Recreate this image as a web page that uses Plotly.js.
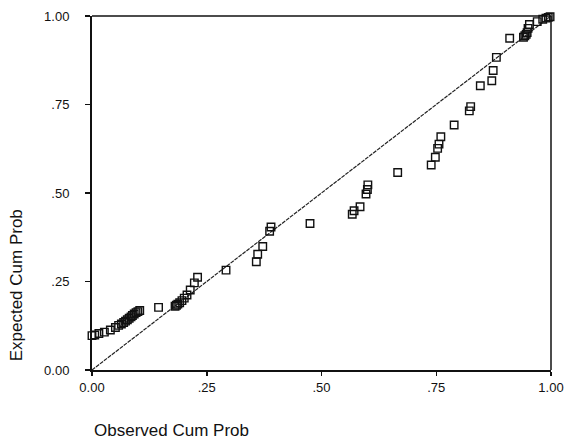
<!DOCTYPE html>
<html>
<head>
<meta charset="utf-8">
<script src="https://cdn.plot.ly/plotly-3.0.1.min.js"></script>
<style>html,body{margin:0;padding:0;background:#fff;}#chart{width:566px;height:442px;}</style>
</head>
<body>
<div id="chart"></div>
<script>
const observedCumProb = [
  0.000, 0.006, 0.015, 0.027, 0.040, 0.051, 0.058, 0.064, 0.069, 0.073, 0.077, 0.081, 0.085, 0.088, 0.092, 0.096, 0.100, 0.104,
  0.145,
  0.181, 0.184, 0.187, 0.191, 0.196, 0.201, 0.207, 0.214, 0.223, 0.230,
  0.292,
  0.358, 0.361, 0.372, 0.387, 0.390,
  0.475,
  0.567, 0.571, 0.584, 0.597, 0.600, 0.601,
  0.666,
  0.739, 0.748, 0.753, 0.756, 0.760,
  0.789,
  0.822, 0.825,
  0.846, 0.871, 0.874, 0.881,
  0.910, 0.940, 0.943, 0.946, 0.948, 0.950, 0.953, 0.970, 0.982, 0.989, 0.994, 0.998
];
const expectedCumProb = [
  0.097, 0.099, 0.103, 0.107, 0.113, 0.120, 0.126, 0.130, 0.134, 0.138, 0.142, 0.146, 0.150, 0.154, 0.158, 0.162, 0.165, 0.168,
  0.177,
  0.180, 0.183, 0.186, 0.190, 0.196, 0.203, 0.212, 0.226, 0.246, 0.262,
  0.282,
  0.306, 0.327, 0.349, 0.392, 0.404,
  0.414,
  0.440, 0.450, 0.461, 0.497, 0.510, 0.523,
  0.558,
  0.579, 0.601, 0.626, 0.638, 0.659,
  0.692,
  0.732, 0.744,
  0.803, 0.817, 0.846, 0.883,
  0.937, 0.940, 0.944, 0.948, 0.953, 0.965, 0.976, 0.984, 0.991, 0.994, 0.996, 0.998
];
const refLineX = [0, 1];
const refLineY = [0, 1];
const tickValues = [0, 0.25, 0.5, 0.75, 1];
const xTickLabels = ["0.00", ".25", ".50", ".75", "1.00"];
const yTickLabels = ["0.00", ".25", ".50", ".75", "1.00"];
const xTitle = "Observed Cum Prob";
const yTitle = "Expected Cum Prob";

const FONT = "Arial, 'Liberation Sans', Helvetica, sans-serif";

const traces = [
  {
    x: refLineX, y: refLineY, type: "scatter", mode: "lines",
    line: {color: "#222", width: 1.2, dash: "4px,1px"},
    hoverinfo: "skip", showlegend: false, cliponaxis: false
  },
  {
    x: observedCumProb, y: expectedCumProb, type: "scatter", mode: "markers",
    marker: {symbol: "square-open", size: 7.5, color: "#111", line: {width: 1.4, color: "#111"}},
    showlegend: false, cliponaxis: false
  }
];

const layout = {
  width: 566, height: 442,
  margin: {l: 92, r: 15, t: 16, b: 72},
  paper_bgcolor: "#fff", plot_bgcolor: "#fff",
  font: {family: FONT, size: 13, color: "#111"},
  xaxis: {
    range: [0, 1], tickvals: tickValues, ticktext: xTickLabels,
    showgrid: false, zeroline: false, showline: true, linecolor: "#111", linewidth: 2,
    ticks: "outside", ticklen: 4, tickwidth: 1.5, tickcolor: "#111",
    ticklabeloverflow: "allow",
    tickfont: {family: FONT, size: 13, color: "#111"}, fixedrange: true
  },
  yaxis: {
    range: [0, 1], tickvals: tickValues, ticktext: yTickLabels,
    showgrid: false, zeroline: false, showline: true, linecolor: "#111", linewidth: 2,
    ticks: "outside", ticklen: 5, tickwidth: 1.5, tickcolor: "#111",
    ticklabelstandoff: 13,
    tickfont: {family: FONT, size: 13, color: "#111"}, fixedrange: true
  },
  shapes: [
    {type: "line", xref: "paper", yref: "paper", x0: 0, x1: 1, y0: 1, y1: 1, line: {color: "#111", width: 1.5}},
    {type: "line", xref: "paper", yref: "paper", x0: 1, x1: 1, y0: 0, y1: 1, line: {color: "#111", width: 1.5}}
  ],
  annotations: [
    {text: xTitle, xref: "paper", yref: "paper", x: 0, y: -0.17, xanchor: "left", yanchor: "middle",
     showarrow: false, font: {family: FONT, size: 17, color: "#111"}},
    {text: yTitle, xref: "paper", yref: "paper", x: -0.165, y: 0.24, xanchor: "center", yanchor: "middle",
     textangle: -90, showarrow: false, font: {family: FONT, size: 17, color: "#111"}}
  ]
};

Plotly.newPlot("chart", traces, layout, {displayModeBar: false, staticPlot: true});
</script>
</body>
</html>
